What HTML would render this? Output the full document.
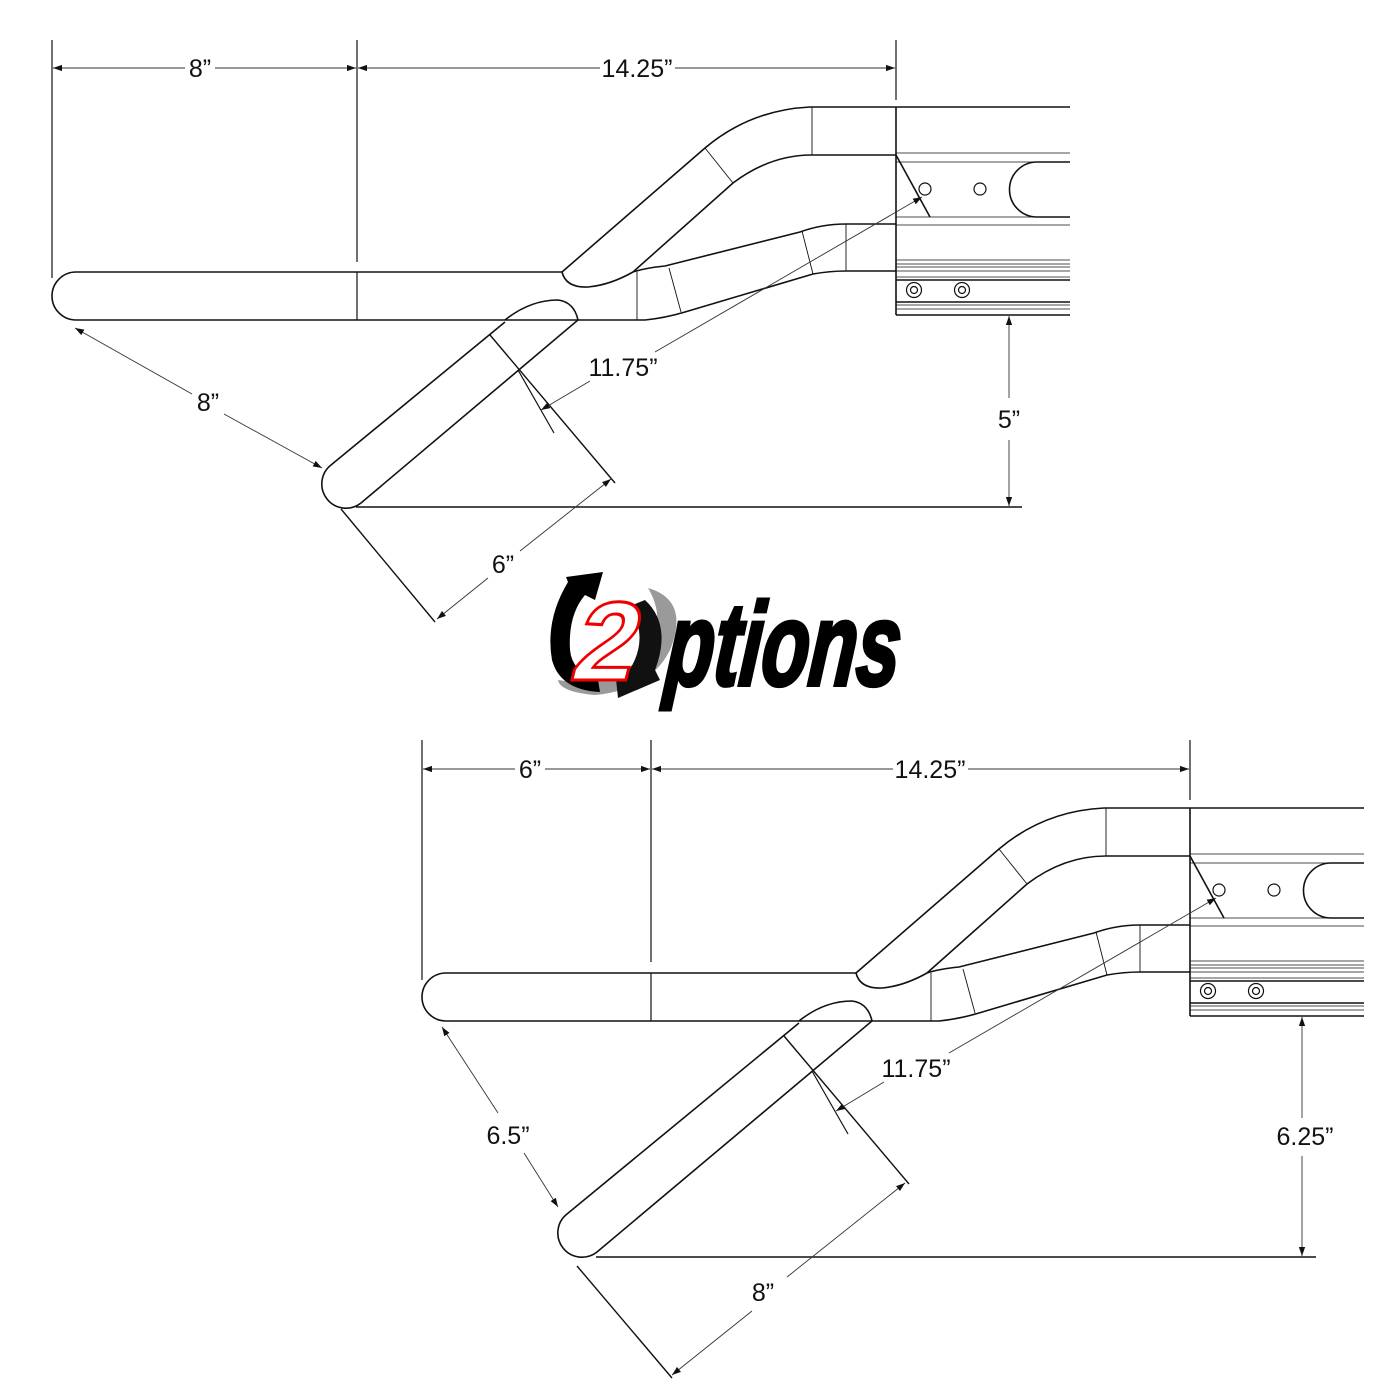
<!DOCTYPE html>
<html><head><meta charset="utf-8"><style>
html,body{margin:0;padding:0;background:#fff;}
svg{display:block}
.t{font-family:"Liberation Sans Narrow","Liberation Sans",sans-serif;font-size:25px;fill:#111;text-anchor:middle}
</style></head><body>
<svg width="1400" height="1400" viewBox="0 0 1400 1400" xmlns="http://www.w3.org/2000/svg">
<defs>
<marker id="a" viewBox="0 0 10 10" refX="10" refY="5" markerWidth="9" markerHeight="9" orient="auto-start-reverse" markerUnits="userSpaceOnUse"><path d="M0,1.5 L10,5 L0,8.5 z" fill="#111"/></marker>
<g id="right" fill="none" stroke="#111">
  <path d="M562,272 L705,148 Q750,110 810,107 L1070,107" stroke-width="1.6"/>
  <path d="M633,272 L733,183 Q770,155 812,155 L896,155" stroke-width="1.6"/>
  <line x1="705" y1="148" x2="733" y2="183" stroke-width="0.9"/>
  <line x1="812" y1="107" x2="812" y2="155" stroke-width="0.9"/>
  <path d="M562,272 Q566,288 588,287 Q610,285 633,272" stroke-width="1.6"/>
  <path d="M633,272 Q645,268 665,266 L800,232 Q822,224 846,224 L896,224" stroke-width="1.6"/>
  <path d="M578,320 L645,320 Q665,318 685,312 L813,274 Q830,271 846,271 L896,271" stroke-width="1.6"/>
  <line x1="637" y1="272" x2="637" y2="320" stroke-width="0.9"/>
  <line x1="669" y1="268" x2="681" y2="312" stroke-width="0.9"/>
  <line x1="802" y1="231" x2="813" y2="274" stroke-width="0.9"/>
  <line x1="846" y1="224" x2="846" y2="271" stroke-width="0.9"/>
  <line x1="896" y1="107" x2="896" y2="315" stroke-width="1.6"/>
  <line x1="896" y1="153" x2="1070" y2="153" stroke-width="0.8"/>
  <line x1="896" y1="162" x2="1070" y2="162" stroke-width="0.8"/>
  <line x1="896" y1="217" x2="1070" y2="217" stroke-width="0.8"/>
  <line x1="896" y1="225" x2="1070" y2="225" stroke-width="0.8"/>
  <line x1="896" y1="260" x2="1070" y2="260" stroke-width="0.8"/>
  <line x1="896" y1="264" x2="1070" y2="264" stroke-width="0.8"/>
  <line x1="896" y1="267" x2="1070" y2="267" stroke-width="0.8"/>
  <line x1="896" y1="271" x2="1070" y2="271" stroke-width="0.8"/>
  <line x1="896" y1="277" x2="1070" y2="277" stroke-width="0.8"/>
  <line x1="896" y1="280" x2="1070" y2="280" stroke-width="1.4"/>
  <line x1="896" y1="302" x2="1070" y2="302" stroke-width="1.4"/>
  <line x1="896" y1="305" x2="1070" y2="305" stroke-width="0.8"/>
  <line x1="896" y1="309" x2="1070" y2="309" stroke-width="0.8"/>
  <line x1="896" y1="315" x2="1070" y2="315" stroke-width="1.6"/>
  <path d="M1070,162 L1037,162 A27.5,27.5 0 0 0 1037,217 L1070,217" stroke-width="1.6"/>
  <circle cx="925" cy="189" r="6" stroke-width="1.2"/>
  <circle cx="980" cy="189" r="6" stroke-width="1.2"/>
  <circle cx="914" cy="290" r="7.5" stroke-width="1.2"/><circle cx="914" cy="290" r="3.5" stroke-width="1.2"/>
  <circle cx="962" cy="290" r="7.5" stroke-width="1.2"/><circle cx="962" cy="290" r="3.5" stroke-width="1.2"/>
  <line x1="896" y1="155" x2="930" y2="217" stroke-width="1.6"/>
</g>
</defs>

<use href="#right"/>
<g fill="none" stroke="#111">
  <path d="M562,272 L76,272 A24,24 0 0 0 76,320 L578,320" stroke-width="1.6"/>
  <line x1="357" y1="272" x2="357" y2="320" stroke-width="1.2"/>
  <path d="M505,320 Q530,300 558,300 Q574,302 578,320 L361,503 A24,24 0 0 1 331,465 L505,322" stroke-width="1.6"/>
  <line x1="490" y1="335" x2="615" y2="483" stroke-width="1.4"/>
  <line x1="518" y1="370" x2="554" y2="433" stroke-width="1.2"/>
  <line x1="341" y1="509" x2="435" y2="622" stroke-width="1.4"/>
  <line x1="356" y1="507" x2="1022" y2="507" stroke-width="1.6"/>
  <line x1="52" y1="40" x2="52" y2="278" stroke-width="1.2"/>
  <line x1="357" y1="40" x2="357" y2="262" stroke-width="1.2"/>
  <line x1="896" y1="40" x2="896" y2="100" stroke-width="1.2"/>
</g>
<g stroke="#333" stroke-width="0.9" fill="none">
  <line x1="53" y1="68" x2="185" y2="68" marker-start="url(#a)"/>
  <line x1="215" y1="68" x2="356" y2="68" marker-end="url(#a)"/>
  <line x1="358" y1="68" x2="600" y2="68" marker-start="url(#a)"/>
  <line x1="675" y1="68" x2="895" y2="68" marker-end="url(#a)"/>
  <line x1="1009" y1="316" x2="1009" y2="398" marker-start="url(#a)"/>
  <line x1="1009" y1="440" x2="1009" y2="506" marker-end="url(#a)"/>
  <line x1="75" y1="328" x2="192" y2="394" marker-start="url(#a)"/>
  <line x1="224" y1="414" x2="322" y2="468" marker-end="url(#a)"/>
  <line x1="437" y1="619" x2="488" y2="578" marker-start="url(#a)"/>
  <line x1="520" y1="551" x2="611" y2="479" marker-end="url(#a)"/>
  <line x1="655" y1="352" x2="922" y2="197" marker-end="url(#a)"/>
  <line x1="590" y1="381" x2="541" y2="410" marker-end="url(#a)"/>
</g>
<text class="t" x="200" y="77">8”</text>
<text class="t" x="637" y="77">14.25”</text>
<text class="t" x="1009" y="428">5”</text>
<text class="t" x="208" y="411">8”</text>
<text class="t" x="503" y="573">6”</text>
<text class="t" x="623" y="376">11.75”</text>

<use href="#right" transform="translate(294,701)"/>
<g fill="none" stroke="#111">
  <path d="M856,973 L446,973 A24,24 0 0 0 446,1021 L872,1021" stroke-width="1.6"/>
  <line x1="651" y1="973" x2="651" y2="1021" stroke-width="1.2"/>
  <path d="M799,1021 Q824,1001 852,1001 Q868,1003 872,1021 L597,1252 A24,24 0 0 1 567,1214 L799,1023" stroke-width="1.6"/>
  <line x1="784" y1="1036" x2="909" y2="1184" stroke-width="1.4"/>
  <line x1="812" y1="1071" x2="848" y2="1134" stroke-width="1.2"/>
  <line x1="577" y1="1266" x2="672" y2="1378" stroke-width="1.4"/>
  <line x1="596" y1="1257" x2="1316" y2="1257" stroke-width="1.6"/>
  <line x1="422" y1="740" x2="422" y2="980" stroke-width="1.2"/>
  <line x1="651" y1="740" x2="651" y2="962" stroke-width="1.2"/>
  <line x1="1190" y1="740" x2="1190" y2="800" stroke-width="1.2"/>
</g>
<g stroke="#333" stroke-width="0.9" fill="none">
  <line x1="423" y1="769" x2="515" y2="769" marker-start="url(#a)"/>
  <line x1="545" y1="769" x2="650" y2="769" marker-end="url(#a)"/>
  <line x1="652" y1="769" x2="893" y2="769" marker-start="url(#a)"/>
  <line x1="968" y1="769" x2="1189" y2="769" marker-end="url(#a)"/>
  <line x1="1302" y1="1017" x2="1302" y2="1118" marker-start="url(#a)"/>
  <line x1="1302" y1="1156" x2="1302" y2="1256" marker-end="url(#a)"/>
  <line x1="442" y1="1027" x2="498" y2="1113" marker-start="url(#a)"/>
  <line x1="524" y1="1153" x2="558" y2="1207" marker-end="url(#a)"/>
  <line x1="672" y1="1375" x2="752" y2="1311" marker-start="url(#a)"/>
  <line x1="787" y1="1277" x2="905" y2="1183" marker-end="url(#a)"/>
  <line x1="949" y1="1053" x2="1216" y2="898" marker-end="url(#a)"/>
  <line x1="884" y1="1082" x2="836" y2="1111" marker-end="url(#a)"/>
</g>
<text class="t" x="530" y="778">6”</text>
<text class="t" x="930" y="778">14.25”</text>
<text class="t" x="1305" y="1145">6.25”</text>
<text class="t" x="508" y="1144">6.5”</text>
<text class="t" x="763" y="1301">8”</text>
<text class="t" x="916" y="1077">11.75”</text>

<g>
  <path d="M648,588 Q690,600 670,650 Q650,690 595,695 Q560,692 558,680 Q600,688 640,660 Q670,625 648,588 z" fill="#9a9a9a"/>
  <path d="M568,582 Q545,620 552,660 Q560,690 600,692 L598,680 Q572,672 570,650 Q568,615 585,595 L595,600 L603,572 L566,577 z" fill="#000"/>
  <path d="M645,600 Q672,625 655,670 L660,680 L618,698 L615,670 L628,672 Q650,640 630,606 z" fill="#111"/>
  <text x="0" y="0" font-family="Liberation Sans, sans-serif" font-weight="bold" font-size="112" fill="#fff" stroke="#e00" stroke-width="3" transform="translate(568,680) skewX(-14)">2</text>
  <text x="0" y="0" font-family="Liberation Sans, sans-serif" font-weight="bold" font-style="italic" font-size="118" fill="#000" stroke="#000" stroke-width="4" transform="translate(664,685) scale(0.66,1) skewX(-8)">ptions</text>
</g>
</svg>
</body></html>
